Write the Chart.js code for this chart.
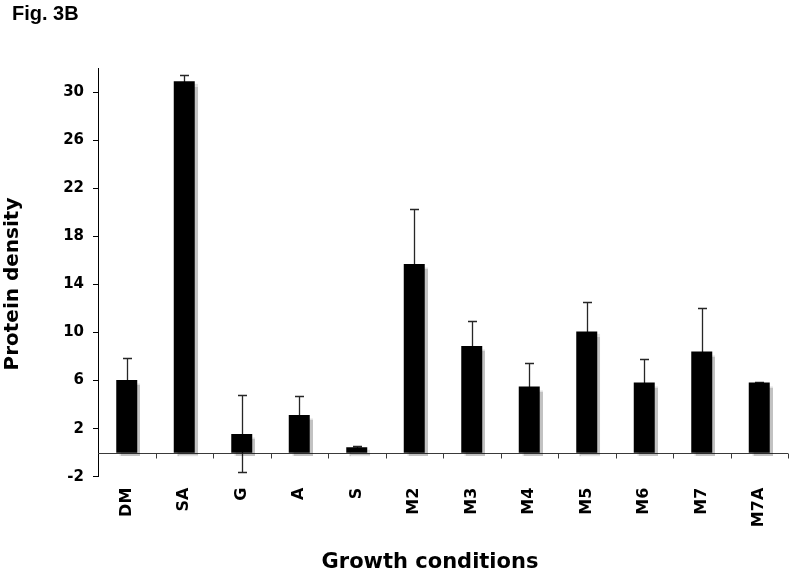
<!DOCTYPE html>
<html>
<head>
<meta charset="utf-8">
<script src="https://cdn.jsdelivr.net/npm/chart.js@4.4.1/dist/chart.umd.min.js"></script>
<style>
  html, body { margin: 0; padding: 0; background: #fff; }
  #wrap { width: 800px; height: 576px; position: relative; }
</style>
</head>
<body>
<div id="wrap"><canvas id="c" width="800" height="576"></canvas></div>
<script>
const categories = ['DM', 'SA', 'G', 'A', 'S', 'M2', 'M3', 'M4', 'M5', 'M6', 'M7', 'M7A'];
const proteinDensity = [6.05, 30.9, 1.56, 3.14, 0.45, 15.7, 8.88, 5.5, 10.08, 5.83, 8.41, 5.83];
const errorValues = [1.8, 0.5, 3.2, 1.6, 0.1, 4.56, 2.1, 2.0, 2.45, 1.95, 3.6, 0.05];
const yTickValues = [-2, 2, 6, 10, 14, 18, 22, 26, 30];
const yMin = -2, yMax = 32;
const figLabel = 'Fig. 3B';
const yTitle = 'Protein density';
const xTitle = 'Growth conditions';

const shadowPlugin = {
  id: 'barShadow',
  beforeDatasetDraw(chart) {
    const ctx = chart.ctx;
    ctx.save();
    ctx.shadowColor = 'rgba(0,0,0,0.24)';
    ctx.shadowOffsetX = 3;
    ctx.shadowOffsetY = 3;
    ctx.shadowBlur = 1;
  },
  afterDatasetDraw(chart) {
    chart.ctx.restore();
  }
};

const decorPlugin = {
  id: 'decor',
  beforeDatasetsDraw(chart) {
    const ctx = chart.ctx;
    const xs = chart.scales.x, ys = chart.scales.y;
    const area = chart.chartArea;
    const y0 = Math.round(ys.getPixelForValue(0)) + 0.5;
    ctx.save();
    ctx.strokeStyle = '#3a3a3a';
    ctx.lineWidth = 1;
    ctx.beginPath();
    ctx.moveTo(area.left, y0);
    ctx.lineTo(area.right, y0);
    const n = categories.length;
    const half = (xs.getPixelForValue(1) - xs.getPixelForValue(0)) / 2;
    for (let i = 0; i < n; i++) {
      const bx = Math.round(xs.getPixelForValue(i) + half) + 0.5;
      ctx.moveTo(bx, y0);
      ctx.lineTo(bx, y0 + 5);
    }
    ctx.stroke();

    // error bars drawn behind the bars, so only the visible parts show
    const meta = chart.getDatasetMeta(0);
    ctx.strokeStyle = '#262626';
    ctx.lineWidth = 1.3;
    ctx.beginPath();
    meta.data.forEach((bar, i) => {
      const v = proteinDensity[i], e = errorValues[i];
      const x = Math.round(bar.x) + 0.5;
      const yt = Math.round(ys.getPixelForValue(v + e)) + 0.5;
      const yb = Math.round(ys.getPixelForValue(v - e)) + 0.5;
      ctx.moveTo(x, yt); ctx.lineTo(x, yb);
      ctx.moveTo(x - 4.5, yt); ctx.lineTo(x + 4.5, yt);
      ctx.moveTo(x - 4.5, yb); ctx.lineTo(x + 4.5, yb);
    });
    ctx.stroke();
    ctx.restore();
  },
  afterDraw(chart) {
    const ctx = chart.ctx;
    ctx.save();
    ctx.fillStyle = '#000';
    ctx.font = 'bold 20px "Liberation Sans", Arial, sans-serif';
    ctx.textAlign = 'left';
    ctx.textBaseline = 'alphabetic';
    ctx.fillText(figLabel, 12, 20);
    ctx.font = 'bold 21px "DejaVu Sans", Verdana, sans-serif';
    ctx.textAlign = 'center';
    ctx.fillText(xTitle, 430, 568);
    ctx.font = 'bold 20px "DejaVu Sans", Verdana, sans-serif';
    ctx.translate(18, 284);
    ctx.rotate(-Math.PI / 2);
    ctx.fillText(yTitle, 0, 0);
    ctx.restore();
  }
};

new Chart(document.getElementById('c'), {
  type: 'bar',
  data: {
    labels: categories,
    datasets: [{
      data: proteinDensity,
      backgroundColor: '#000',
      borderWidth: 0,
      barPercentage: 0.365,
      categoryPercentage: 1.0
    }]
  },
  options: {
    responsive: false,
    animation: false,
    devicePixelRatio: 1,
    layout: { padding: { top: 68, right: 12, bottom: 0, left: 0 } },
    plugins: {
      legend: { display: false },
      tooltip: { enabled: false },
      title: { display: false }
    },
    scales: {
      x: {
        type: 'category',
        grid: { display: false, drawTicks: false },
        border: { display: false },
        ticks: {
          minRotation: 90,
          maxRotation: 90,
          padding: 11,
          color: '#000',
          font: { family: '"DejaVu Sans", Verdana, sans-serif', size: 16, weight: 'bold' }
        },
        afterFit(scale) { scale.height = 99.3; }
      },
      y: {
        min: yMin,
        max: yMax,
        afterBuildTicks(scale) {
          scale.ticks = yTickValues.map(v => ({ value: v }));
        },
        grid: {
          display: true,
          drawOnChartArea: false,
          drawTicks: true,
          tickLength: 5,
          color: '#000',
          lineWidth: 1
        },
        border: { display: true, color: '#000', width: 1 },
        ticks: {
          padding: 9,
          color: '#000',
          font: { family: '"DejaVu Sans", Verdana, sans-serif', size: 15, weight: 'bold' },
          callback: v => String(v)
        },
        afterFit(scale) { scale.width = 98; }
      }
    }
  },
  plugins: [shadowPlugin, decorPlugin]
});
</script>
</body>
</html>
